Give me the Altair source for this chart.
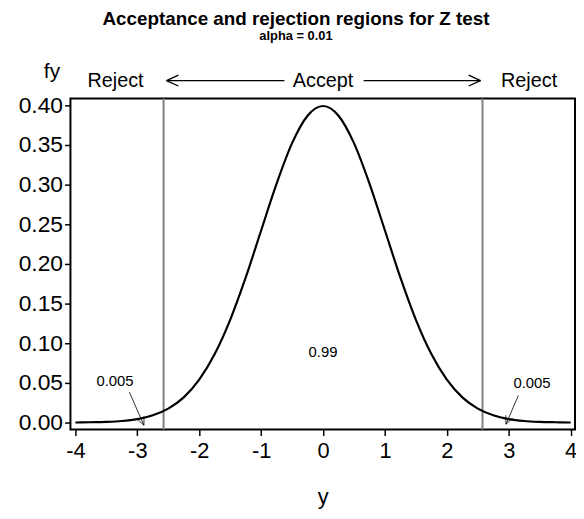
import altair as alt
import pandas as pd
import numpy as np

# Density curve
y_vals = [-4.0, -3.75, -3.5, -3.25, -3.0, -2.75, -2.5, -2.25, -2.0, -1.75, -1.5, -1.25, -1.0,
          -0.75, -0.5, -0.25, 0.0, 0.25, 0.5, 0.75, 1.0, 1.25, 1.5, 1.75, 2.0, 2.25, 2.5,
          2.75, 3.0, 3.25, 3.5, 3.75, 4.0]
fy_vals = [0.0001, 0.0004, 0.0009, 0.0020, 0.0044, 0.0091, 0.0175, 0.0317, 0.0540, 0.0863,
           0.1295, 0.1826, 0.2420, 0.3011, 0.3521, 0.3867, 0.3989, 0.3867, 0.3521, 0.3011,
           0.2420, 0.1826, 0.1295, 0.0863, 0.0540, 0.0317, 0.0175, 0.0091, 0.0044, 0.0020,
           0.0009, 0.0004, 0.0001]

critical = [-2.576, 2.576]
x_ticks = [-4, -3, -2, -1, 0, 1, 2, 3, 4]
y_ticks = [0.0, 0.05, 0.1, 0.15, 0.2, 0.25, 0.3, 0.35, 0.4]

X_DOM = [-4.08, 4.07]
Y_DOM = [-0.00875, 0.4085]
W, H = 509, 334

# pixel-per-unit for annotation geometry
kx = W / (X_DOM[1] - X_DOM[0])
ky = H / (Y_DOM[1] - Y_DOM[0])

curve = pd.DataFrame({"y": y_vals, "fy": fy_vals})

xs = alt.Scale(domain=X_DOM, nice=False, zero=False)
ys = alt.Scale(domain=Y_DOM, nice=False, zero=False)

FONT = "Liberation Sans"

line = alt.Chart(curve).mark_line(color="black", strokeWidth=2.2, interpolate="monotone").encode(
    x=alt.X("y:Q", scale=xs, axis=alt.Axis(values=x_ticks, labelExpr="'' + datum.value", title="y",
                                           labelFontSize=22, titleFontSize=22,
                                           titleFontWeight="normal", tickSize=6,
                                           tickColor="black", tickWidth=1.5, labelColor="black",
                                           titleColor="black", labelPadding=5, titlePadding=26,
                                           domain=False, grid=False, labelFont=FONT, titleFont=FONT)),
    y=alt.Y("fy:Q", scale=ys, axis=alt.Axis(values=y_ticks, format=".2f", title="fy", labelFontSize=23,
                                            titleFontSize=21, titleFontWeight="normal", tickSize=6,
                                            tickColor="black", tickWidth=1.5, labelColor="black",
                                            titleColor="black", labelPadding=2, titleAngle=0,
                                            titleX=-11, titleY=-21, titleAlign="right",
                                            titleBaseline="alphabetic",
                                            domain=False, grid=False, labelFont=FONT, titleFont=FONT)),
)

crit = alt.Chart(pd.DataFrame({"c": critical})).mark_rule(color="#808080", strokeWidth=2).encode(
    x=alt.X("c:Q", scale=xs)
)

# Text labels
top_y = 0.4235
labels_top = pd.DataFrame({
    "x": [-3.352, 0.0, 3.328],
    "y": [top_y, top_y, top_y],
    "t": ["Reject", "Accept", "Reject"],
})
txt_top = alt.Chart(labels_top).mark_text(fontSize=20, font=FONT, baseline="alphabetic",
                                          align="center", color="black").encode(
    x=alt.X("x:Q", scale=xs), y=alt.Y("y:Q", scale=ys), text="t:N")

labels_in = pd.DataFrame({
    "x": [-3.36, 0.0, 3.376],
    "y": [0.0458, 0.0824, 0.0433],
    "t": ["0.005", "0.99", "0.005"],
})
txt_in = alt.Chart(labels_in).mark_text(fontSize=15, font=FONT, baseline="alphabetic",
                                        align="center", color="black").encode(
    x=alt.X("x:Q", scale=xs), y=alt.Y("y:Q", scale=ys), text="t:N")

# Arrow segments (annotation geometry)
segs = []
ay = 0.431
arm_dx, arm_dy = 12 / kx, 5.5 / ky
# Accept arrows
segs.append((-2.528, ay, -0.624, ay))
segs.append((-2.528, ay, -2.528 + arm_dx, ay + arm_dy))
segs.append((-2.528, ay, -2.528 + arm_dx, ay - arm_dy))
segs.append((0.656, ay, 2.544, ay))
segs.append((2.544, ay, 2.544 - arm_dx, ay + arm_dy))
segs.append((2.544, ay, 2.544 - arm_dx, ay - arm_dy))

thin = []


def pointer(x0, y0, x1, y1):
    thin.append((x0, y0, x1, y1))
    vx, vy = (x0 - x1) * kx, (y0 - y1) * ky
    n = np.hypot(vx, vy)
    vx, vy = vx / n, vy / n
    for ang in (0.42, -0.42):
        c, s = np.cos(ang), np.sin(ang)
        rx, ry = vx * c - vy * s, vx * s + vy * c
        thin.append((x1, y1, x1 + 9 * rx / kx, y1 + 9 * ry / ky))


pointer(-3.128, 0.0383, -2.893, -0.0034)
pointer(3.155, 0.0341, 2.955, -0.0021)

seg_df = pd.DataFrame(segs, columns=["x", "y", "x2", "y2"])
thin_df = pd.DataFrame(thin, columns=["x", "y", "x2", "y2"])

arrows = alt.Chart(seg_df).mark_rule(color="black", strokeWidth=1.3).encode(
    x=alt.X("x:Q", scale=xs), y=alt.Y("y:Q", scale=ys), x2="x2:Q", y2="y2:Q")
pointers = alt.Chart(thin_df).mark_rule(color="black", strokeWidth=0.8).encode(
    x=alt.X("x:Q", scale=xs), y=alt.Y("y:Q", scale=ys), x2="x2:Q", y2="y2:Q")

chart = alt.layer(crit, line, txt_top, txt_in, arrows, pointers).properties(
    width=W, height=H,
    autosize=alt.AutoSizeParams(type="none"),
    padding={"left": 63, "top": 89, "right": 1, "bottom": 78},
    title=alt.Title("Acceptance and rejection regions for Z test", subtitle="alpha = 0.01",
                    fontSize=19, font=FONT, subtitleFont=FONT, subtitleFontSize=13,
                    subtitleFontWeight="bold", color="black", subtitleColor="black",
                    anchor="middle", dx=-27, offset=18, subtitlePadding=1),
).configure_view(stroke="black", strokeWidth=2)

chart.save("out.html", embed_options={"renderer": "svg", "actions": False})
